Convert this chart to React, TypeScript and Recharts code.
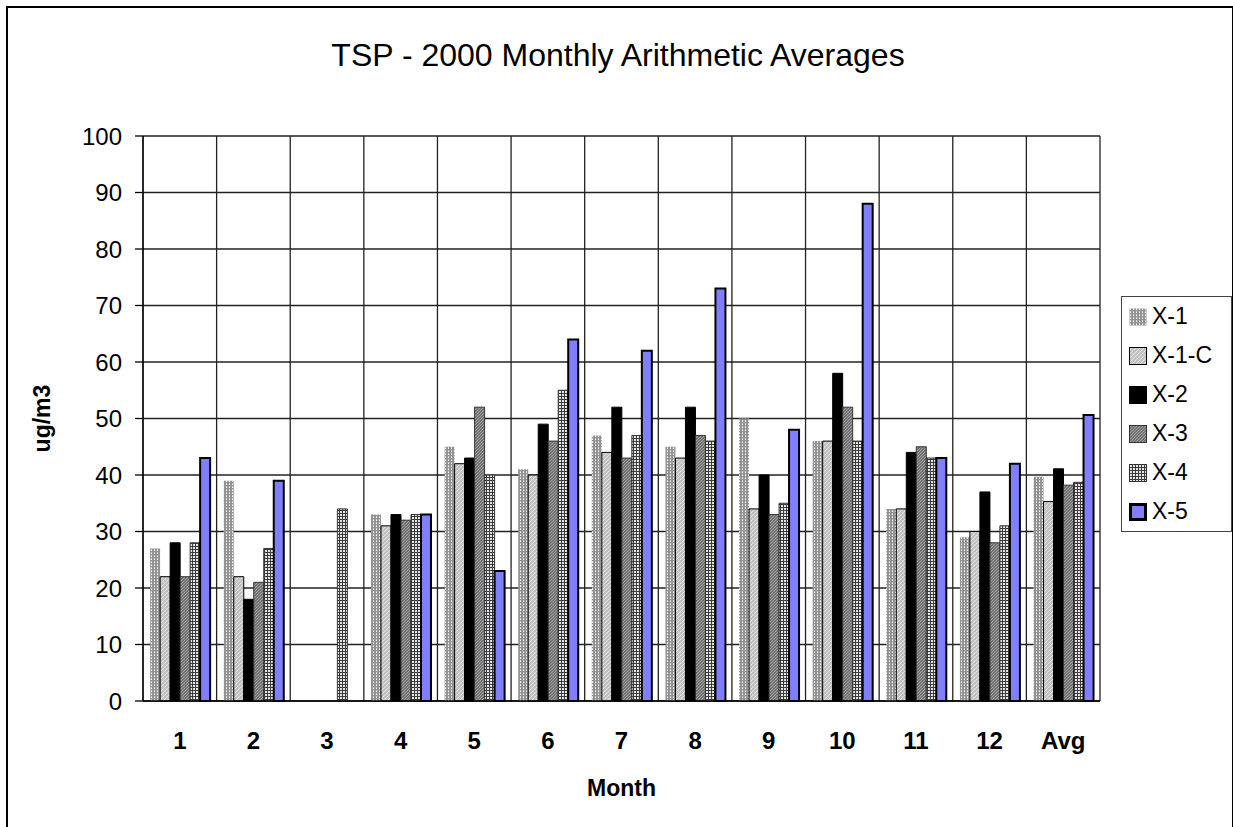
import React from 'react';
import { BarChart, Bar, XAxis, YAxis, CartesianGrid } from 'recharts';

// Monthly TSP averages per site (ug/m3); month 3 has X-4 only
const months = ['1', '2', '3', '4', '5', '6', '7', '8', '9', '10', '11', '12', 'Avg'];
const x1 = [27, 39, null, 33, 45, 41, 47, 45, 50, 46, 34, 29, 39.7];
const x1c = [22, 22, null, 31, 42, 40, 44, 43, 34, 46, 34, 30, 35.3];
const x2 = [28, 18, null, 33, 43, 49, 52, 52, 40, 58, 44, 37, 41.1];
const x3 = [22, 21, null, 32, 52, 46, 43, 47, 33, 52, 45, 28, 38.2];
const x4 = [28, 27, 34, 33, 40, 55, 47, 46, 35, 46, 43, 31, 38.7];
const x5 = [43, 39, null, 33, 23, 64, 62, 73, 48, 88, 43, 42, 50.6];
const yTicks = [0, 10, 20, 30, 40, 50, 60, 70, 80, 90, 100];

const series = [
  { key: 'X-1', values: x1, fill: 'url(#pX1)', stroke: 'none', strokeWidth: 0 },
  { key: 'X-1-C', values: x1c, fill: 'url(#pX1C)', stroke: '#000', strokeWidth: 1 },
  { key: 'X-2', values: x2, fill: '#000', stroke: '#000', strokeWidth: 1 },
  { key: 'X-3', values: x3, fill: 'url(#pX3)', stroke: '#333', strokeWidth: 1 },
  { key: 'X-4', values: x4, fill: 'url(#pX4)', stroke: '#333', strokeWidth: 1 },
  { key: 'X-5', values: x5, fill: '#8080ff', stroke: '#000', strokeWidth: 2 },
];

const data = months.map((m, i) => {
  const row: Record<string, string | number | null> = { month: m };
  series.forEach(s => {
    row[s.key] = s.values[i];
  });
  return row;
});

const FONT = '"Liberation Sans", Arial, sans-serif';

// Column boundaries instead of the default tick-centred lines
const boundaryLines = (props: any) => {
  const left = props?.offset?.left ?? 143;
  const width = props?.offset?.width ?? 957;
  return Array.from({ length: months.length + 1 }, (_, i) => left + (width * i) / months.length);
};

const Patterns = () => (
  <defs>
    <pattern id="pX1" width="3" height="3" patternUnits="userSpaceOnUse">
      <rect width="3" height="3" fill="#939393" />
      <rect x="1" y="1" width="1" height="1" fill="#fff" />
      <rect x="1" y="0" width="1" height="1" fill="#d0d0d0" />
    </pattern>
    <pattern id="pX1C" width="4" height="4" patternUnits="userSpaceOnUse">
      <rect width="4" height="4" fill="#c2c2c2" />
      <path d="M0 4 L4 0" stroke="#e2e2e2" strokeWidth="1" />
    </pattern>
    <pattern id="pX3" width="3" height="3" patternUnits="userSpaceOnUse">
      <rect width="3" height="3" fill="#747474" />
      <path d="M0 3 L3 0" stroke="#9e9e9e" strokeWidth="1" />
    </pattern>
    <pattern id="pX4" width="3" height="3" patternUnits="userSpaceOnUse">
      <rect width="3" height="3" fill="#e6e6e6" />
      <rect width="3" height="1" fill="#3c3c3c" />
      <rect width="1" height="3" fill="#3c3c3c" />
    </pattern>
  </defs>
);

const Swatch = ({ fill, stroke, strokeWidth }: { fill: string; stroke: string; strokeWidth: number }) => (
  <svg width="18" height="18" style={{ display: 'block' }}>
    <rect
      x={strokeWidth > 1 ? 1.5 : 0.5}
      y={strokeWidth > 1 ? 1.5 : 0.5}
      width={strokeWidth > 1 ? 15 : 17}
      height={strokeWidth > 1 ? 15 : 17}
      fill={fill}
      stroke={stroke === 'none' ? 'none' : stroke}
      strokeWidth={strokeWidth > 1 ? 3 : 1}
    />
  </svg>
);

const App: React.FC = () => {
  return (
    <div
      style={{
        position: 'fixed',
        left: 0,
        top: 0,
        width: 1233,
        height: 827,
        background: '#fff',
        overflow: 'hidden',
        fontFamily: FONT,
      }}
    >
      <div
        style={{
          position: 'absolute',
          left: 6,
          top: 6,
          width: 1224,
          height: 840,
          border: '2px solid #000',
        }}
      />
      <div
        style={{
          position: 'absolute',
          left: 318,
          top: 39,
          width: 600,
          textAlign: 'center',
          fontSize: 32,
          lineHeight: 1,
          color: '#000',
          whiteSpace: 'nowrap',
        }}
      >
        TSP - 2000 Monthly Arithmetic Averages
      </div>

      <div style={{ position: 'absolute', left: 0, top: 0 }}>
        <BarChart
          width={1233}
          height={827}
          data={data}
          margin={{ top: 136, right: 133, bottom: 0, left: 0 }}
          barCategoryGap="9.7%"
          barGap={0}
        >
          <Patterns />
          <CartesianGrid
            stroke="#222"
            strokeWidth={1.3}
            verticalCoordinatesGenerator={boundaryLines}
          />
          <XAxis
            dataKey="month"
            height={126}
            axisLine={{ stroke: '#000', strokeWidth: 1.3 }}
            tickLine={false}
            tickSize={0}
            tickMargin={31}
            interval={0}
            tick={{ fill: '#000', fontSize: 24, fontWeight: 'bold', fontFamily: FONT }}
            label={{
              content: ({ viewBox }: any) => (
                <text
                  x={viewBox.x + viewBox.width / 2}
                  y={viewBox.y + 95}
                  textAnchor="middle"
                  fontSize={23}
                  fontWeight="bold"
                  fontFamily={FONT}
                  fill="#000"
                >
                  Month
                </text>
              ),
            }}
          />
          <YAxis
            width={143}
            domain={[0, 100]}
            ticks={yTicks}
            interval={0}
            axisLine={{ stroke: '#000', strokeWidth: 1.3 }}
            tickLine={{ stroke: '#000', strokeWidth: 1.3 }}
            tickSize={8}
            tickMargin={13}
            tick={{ fill: '#000', fontSize: 24, fontFamily: FONT }}
            label={{
              content: ({ viewBox }: any) => {
                const cx = 42;
                const cy = viewBox.y + viewBox.height / 2;
                return (
                  <text
                    x={cx}
                    y={cy}
                    transform={`rotate(-90, ${cx}, ${cy})`}
                    textAnchor="middle"
                    dominantBaseline="central"
                    fontSize={23}
                    fontWeight="bold"
                    fontFamily={FONT}
                    fill="#000"
                  >
                    ug/m3
                  </text>
                );
              },
            }}
          />
          {series.map(s => (
            <Bar
              key={s.key}
              dataKey={s.key}
              fill={s.fill}
              stroke={s.stroke}
              strokeWidth={s.strokeWidth}
              isAnimationActive={false}
            />
          ))}
        </BarChart>
      </div>

      <div
        style={{
          position: 'absolute',
          left: 1121,
          top: 296,
          width: 109,
          border: '1.5px solid #444',
          background: '#fff',
        }}
      >
        {series.map(s => (
          <div
            key={s.key}
            style={{ display: 'flex', alignItems: 'center', height: 39, paddingLeft: 7 }}
          >
            <Swatch fill={s.fill} stroke={s.stroke} strokeWidth={s.strokeWidth} />
            <span style={{ marginLeft: 5, fontSize: 23, color: '#000', lineHeight: 1 }}>{s.key}</span>
          </div>
        ))}
      </div>
    </div>
  );
};

export default App;
